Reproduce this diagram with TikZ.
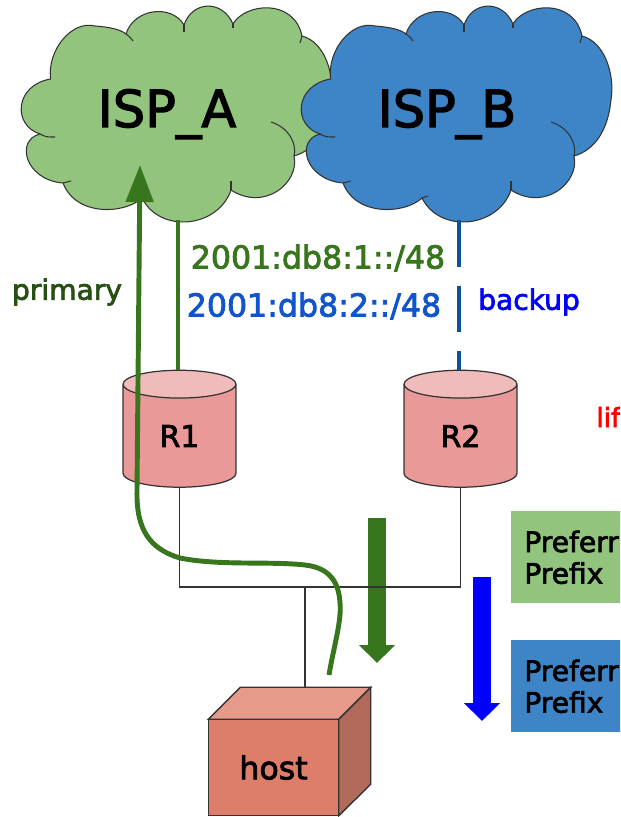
\documentclass[tikz,border=0pt]{standalone}
\usepackage{fontspec}
\setmainfont[FakeBold=2.5]{DejaVu Sans}
\definecolor{ispgreen}{HTML}{93C47D}
\definecolor{ispblue}{HTML}{3D85C6}
\definecolor{linkgreen}{HTML}{38761D}
\definecolor{linkblue}{HTML}{0B5394}
\definecolor{textblue}{HTML}{1155CC}
\definecolor{textgreen}{HTML}{274E13}
\definecolor{routerbody}{HTML}{EA9999}
\definecolor{routertop}{HTML}{F0BBBB}
\definecolor{hostfront}{HTML}{DD7E6B}
\definecolor{hosttop}{HTML}{E59A8A}
\definecolor{hostside}{HTML}{B26B5B}
\definecolor{edgegray}{HTML}{333333}
\usetikzlibrary{shapes, arrows.meta}
\tikzset{
  cloudblob/.pic={
    \path[pic actions] (50.6,79) .. controls (47,50) and (72,20) .. (95,26)
      .. controls (108,27) and (120,29) .. (126,34)
      .. controls (134,8) and (172,4) .. (184,25)
      .. controls (192,1) and (222,-1) .. (233,24)
      .. controls (245,3) and (294,-2) .. (302,36)
      .. controls (325,42) and (335,75) .. (331,100)
      .. controls (328,130) and (315,150) .. (294,156)
      .. controls (300,182) and (265,212) .. (231,190)
      .. controls (218,228) and (160,234) .. (142,198)
      .. controls (125,214) and (76,217) .. (63,183)
      .. controls (25,180) and (15,140) .. (40,134)
      .. controls (12,125) and (15,85) .. (50.6,79) -- cycle;
    \path[pic actions, fill=none] (126,34) .. controls (129,36) and (131,38) .. (133,41);
    \path[pic actions, fill=none] (184,25) -- (184,32);
    \path[pic actions, fill=none] (233,24) -- (233,28);
    \path[pic actions, fill=none] (302,36) -- (300,43);
    \path[pic actions, fill=none] (271,122) .. controls (290,128) and (297,145) .. (294,156);
    \path[pic actions, fill=none] (231,190) -- (231,181);
    \path[pic actions, fill=none] (142,198) -- (148,196);
    \path[pic actions, fill=none] (63,183) -- (71,181);
    \path[pic actions, fill=none] (40,134) .. controls (46,137) .. (55,137);
  },
  cloudline/.style={draw=edgegray, line width=0.6pt},
  cloudlabel/.style={anchor=base, inner sep=0pt, font=\fontsize{29}{30}\selectfont, text=black},
  router/.style={shape=cylinder, shape border rotate=90, aspect=0.7, draw=edgegray, line width=0.7pt,
    cylinder uses custom fill, cylinder body fill=routerbody, cylinder end fill=routertop,
    minimum height=2.34cm, minimum width=2.26cm, outer sep=0pt, inner sep=0pt,
    font=\fontsize{17}{20}\selectfont},
  prefixbox/.style={anchor=north west, minimum height=1.84cm, text width=3cm, align=left,
    inner xsep=0.26cm, inner ysep=0pt, text=black, font=\fontsize{16}{18}\selectfont},
  linktext/.style={inner sep=0pt, font=\fontsize{18}{20}\selectfont},
  sidetext/.style={inner sep=0pt, font=\fontsize{16}{18}\selectfont},
  wanlink/.style={line width=2.8pt},
  lanlink/.style={draw=edgegray, line width=0.8pt},
  fallarrow/.style={line width=0.36cm, -{Triangle[length=0.36cm, width=0.7cm]}}
}

\begin{document}
\begin{tikzpicture}[x=0.02cm, y=-0.02cm]
  \path[use as bounding box, fill=white] (0,0) rectangle (620,817);
  \clip (0,0) rectangle (620,817);

  \pic[fill=ispgreen, cloudline] at (0,0) {cloudblob};
  \pic[fill=ispblue, cloudline] at (280,0) {cloudblob};
  \node[cloudlabel] (ispA) at (167,127) {ISP\_A};
  \node[cloudlabel] (ispB) at (447,127) {ISP\_B};
  \coordinate (ispAfoot) at (178,220);
  \coordinate (ispBfoot) at (459,220);

  \node[router] (R1) at (179.5,436) {R1};
  \node[router] (R2) at (460.5,436) {R2};

  \draw[wanlink, draw=linkgreen] (ispAfoot) -- (ispAfoot |- R1.north);
  \draw[wanlink, draw=linkblue, dash pattern=on 26.5pt off 10.8pt] (ispBfoot) -- (ispBfoot |- R2.north);

  \node[linktext, text=linkgreen] (prefixA) at (318,258) {2001:db8:1::/48};
  \node[linktext, text=textblue] (prefixB) at (314,306) {2001:db8:2::/48};
  \node[sidetext, text=textgreen] (primary) at (67,292) {primary};
  \node[sidetext, text=blue] (backup) at (529,302) {backup};
  \node[sidetext, text=red, anchor=west, font=\fontsize{15}{18}\selectfont] (life) at (596,417) {lif};

  \node[prefixbox, fill=ispgreen] (prefgreen) at (511,511) {Preferr\\Prefix};
  \node[prefixbox, fill=ispblue] (prefblue) at (511,640) {Preferr\\Prefix};

  \coordinate (fallAtop) at (377,518);
  \coordinate (fallAend) at (377,663);
  \coordinate (fallBtop) at (482,577);
  \coordinate (fallBend) at (482,721);
  \draw[fallarrow, draw=linkgreen] (fallAtop) -- (fallAend);
  \draw[fallarrow, draw=blue] (fallBtop) -- (fallBend);

  \node[draw=edgegray, fill=hostfront, line width=0.8pt, minimum width=2.61cm, minimum height=1.93cm,
    outer sep=0pt, font=\fontsize{18}{20}\selectfont] (host) at (273.5,767.5) {host};
  \draw[draw=edgegray, fill=hosttop, line width=0.8pt] (host.north west) -- ++(32,-32) -- ++(130.5,0)
    -- (host.north east) -- cycle;
  \draw[draw=edgegray, fill=hostside, line width=0.8pt] (host.north east) -- ++(32,-32) -- ++(0,97)
    -- (host.south east) -- cycle;

  \coordinate (hostport) at (305,687);
  \coordinate (busjoin) at (305,587);
  \draw[lanlink] (R1.south) |- (busjoin) -- (hostport);
  \draw[lanlink] (R2.south) |- (busjoin);

  \coordinate (routefoot) at (329,675);
  \coordinate (routetip) at (140,165);
  \draw[wanlink, draw=linkgreen, -{Triangle[length=0.74cm, width=0.54cm]}] (routefoot)
    .. controls (333,650) and (342,620) .. (340,603)
    .. controls (339,585) and (332,568) .. (305,565)
    .. controls (270,561) and (220,566) .. (180,558)
    .. controls (150,549) and (136,530) .. (137,490)
    -- (routetip);
\end{tikzpicture}
\end{document}
